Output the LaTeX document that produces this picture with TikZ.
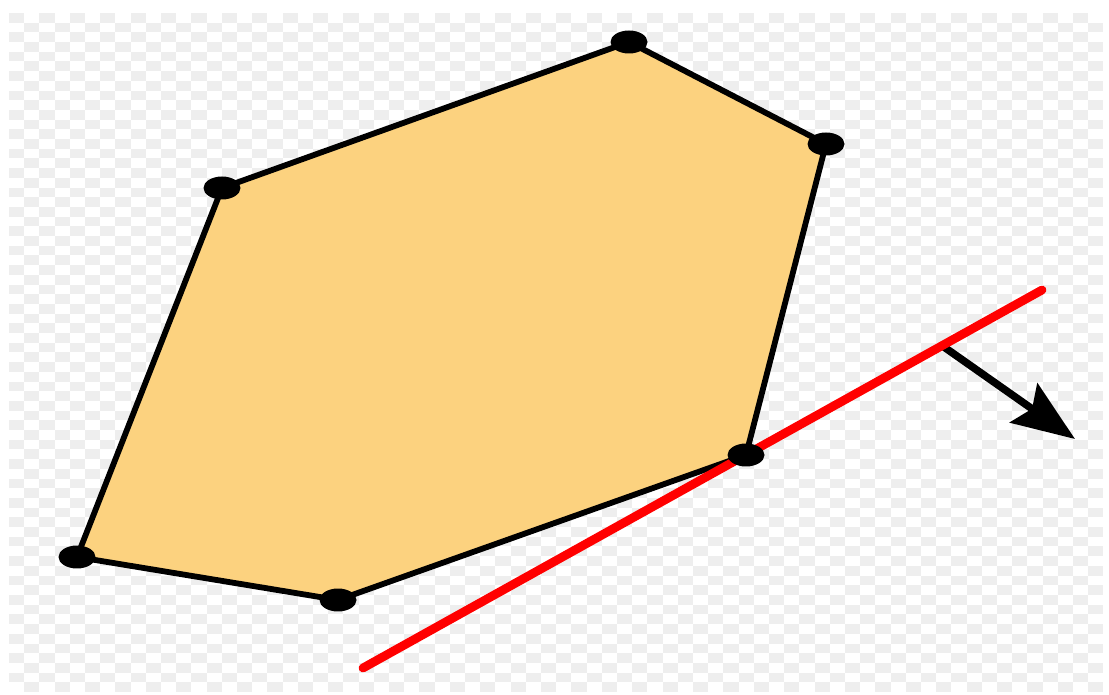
\documentclass[tikz,border=0pt]{standalone}
\usetikzlibrary{shapes.geometric, arrows.meta}
\usepackage{xcolor}
\definecolor{hullfill}{RGB}{252,210,127}
\definecolor{checker}{RGB}{238,238,238}
\tikzstyle{vertex} = [ellipse, fill=black, minimum width=0.74cm, minimum height=0.46cm, inner sep=0pt]
\tikzstyle{hull} = [draw=black, line width=3.3pt, fill=hullfill, line join=round]
\tikzstyle{support} = [draw=red, line width=5pt, line cap=round]
\tikzstyle{outward} = [line width=4.3pt, -{Stealth[length=1.25cm, width=0.95cm, inset=0.2cm]}]

\begin{document}
\begin{tikzpicture}[x=0.02cm, y=-0.02cm]
\useasboundingbox (0,0) rectangle (1109,695);
% --- fondo a cuadros ---
\foreach \i in {0,...,71}
  \foreach \j in {0,...,69}
    {\ifodd\numexpr\i+\j\relax\else
      \fill[checker] (9+15.2*\i,13+9.7*\j) rectangle +(15.2,9.7);\fi}

% --- vertices del poligono ---
\coordinate (pa) at (629,42);
\coordinate (pb) at (826,144);
\coordinate (pc) at (746,455);
\coordinate (pd) at (338,600);
\coordinate (pe) at (77,557);
\coordinate (pf) at (222,188);

% --- recta de apoyo y normal ---
\coordinate (lo) at (363,668);
\coordinate (hi) at (1042,290);
\coordinate (foot) at (944,347);
\coordinate (tip) at (1075,439);
\draw[outward] (foot) -- (tip);

% --- poligono convexo ---
\draw[hull] (pa) -- (pb) -- (pc) -- (pd) -- (pe) -- (pf) -- cycle;
\draw[support] (lo) -- (hi);

% --- puntos ---
\node (a) [vertex] at (pa) {};
\node (b) [vertex] at (pb) {};
\node (c) [vertex] at (pc) {};
\node (d) [vertex] at (pd) {};
\node (e) [vertex] at (pe) {};
\node (f) [vertex] at (pf) {};
\end{tikzpicture}
\end{document}
